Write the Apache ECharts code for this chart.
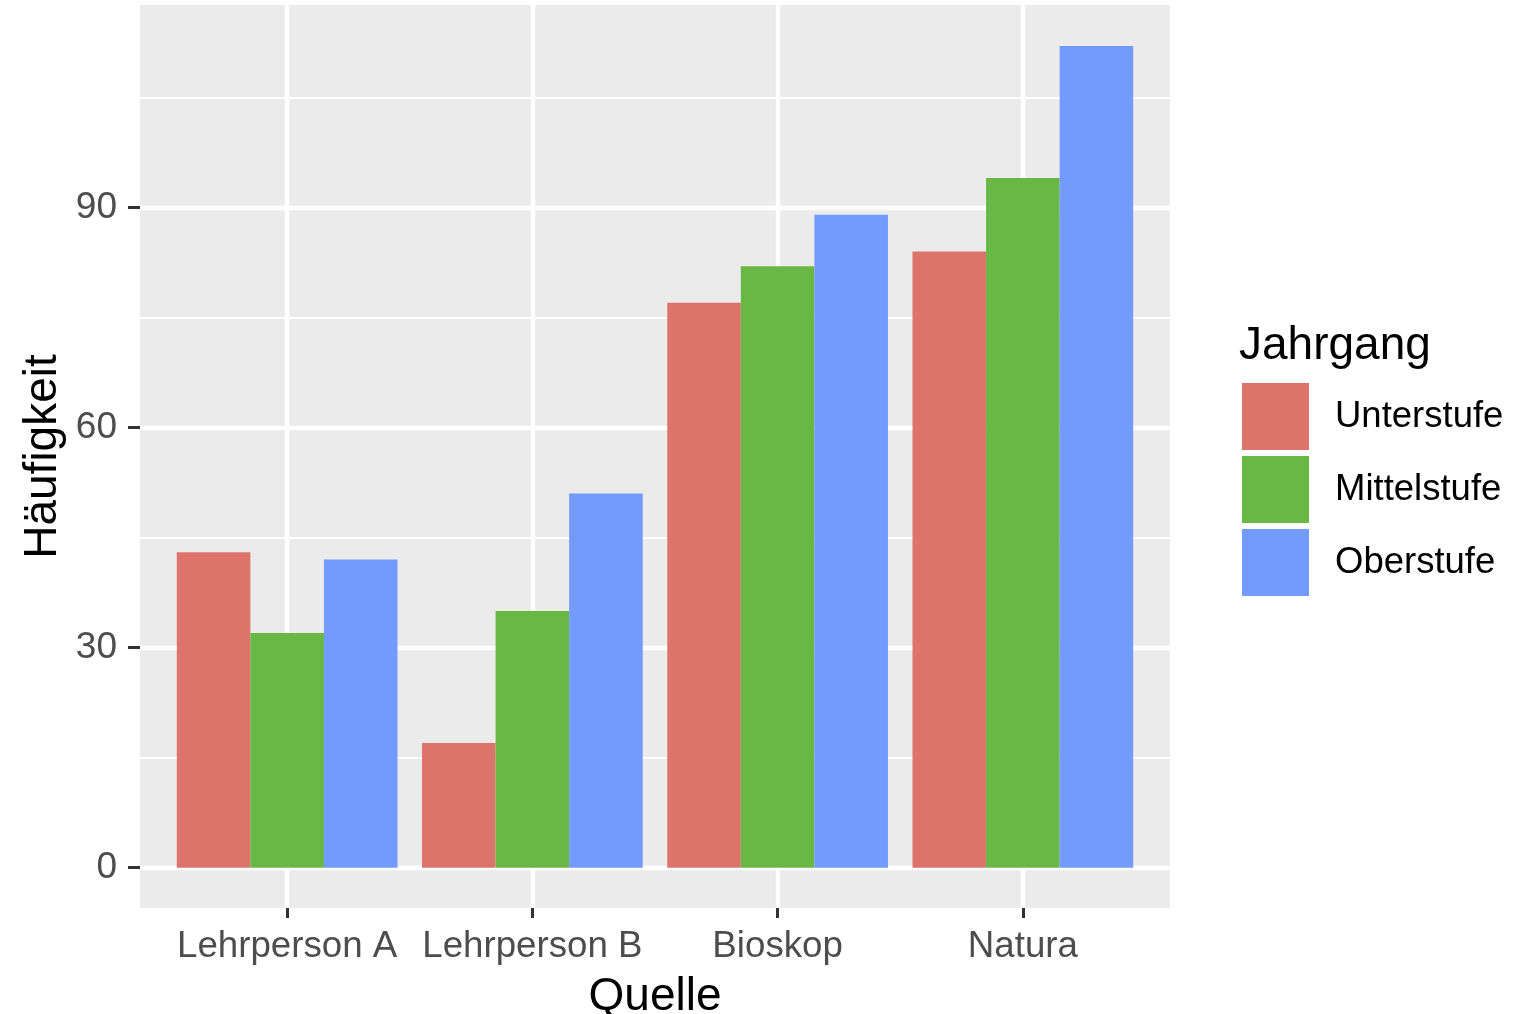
<!DOCTYPE html>
<html><head><meta charset="utf-8">
<script src="https://cdn.jsdelivr.net/npm/echarts@6/dist/echarts.min.js"></script>
<style>html,body{margin:0;padding:0;background:#fff}#c{width:1522px;height:1014px}</style>
</head><body><div id="c"></div>
<script>
// ---- data ----
const categories = ['Lehrperson A', 'Lehrperson B', 'Bioskop', 'Natura'];
const seriesNames = ['Unterstufe', 'Mittelstufe', 'Oberstufe'];
const unterstufe = [43, 17, 77, 84];
const mittelstufe = [32, 35, 82, 94];
const oberstufe = [42, 51, 89, 112];
const yTickLabels = [0, 30, 60, 90];
const colors = ['#DD746B', '#69B745', '#739AFD'];

// ---- layout ----
const FONT = '"Liberation Sans", Arial, Helvetica, sans-serif';
const panelLeft = 140, panelRight = 1170, panelTop = 5, panelBottom = 908;
const yLo = -5.5, yHi = 117.6;
const k = (panelBottom - panelTop) / (yHi - yLo);
const zeroY = panelBottom + yLo * k;
const gridMax = 120;
const panelW = panelRight - panelLeft;
const band = panelW / (categories.length + 0.2);

const chart = echarts.init(document.getElementById('c'), null, {renderer: 'canvas'});
const hidden = {show: false};
const option = {
  animation: false,
  backgroundColor: '#FFFFFF',
  textStyle: {fontFamily: FONT},
  title: {
    text: 'Jahrgang', left: 1239, top: 323, padding: 0,
    textStyle: {fontFamily: FONT, fontSize: 46, fontWeight: 'normal', color: '#000'}
  },
  legend: {
    data: seriesNames, orient: 'vertical', left: 1242, top: 383, padding: 0,
    itemWidth: 67, itemHeight: 67, itemGap: 6, icon: 'rect',
    textStyle: {fontFamily: FONT, fontSize: 36.5, color: '#000', padding: [12, 0, 0, 21]}
  },
  grid: [
    {left: panelLeft, top: panelTop, width: panelW, height: panelBottom - panelTop,
     show: true, backgroundColor: '#EBEBEB', borderWidth: 0, outerBoundsMode: 'none'},
    {left: panelLeft, top: zeroY - gridMax * k, width: panelW, height: gridMax * k,
     show: false, outerBoundsMode: 'none'},
    {left: panelLeft + 0.1 * band, top: panelTop, width: band * categories.length,
     height: panelBottom - panelTop, show: false, outerBoundsMode: 'none'}
  ],
  xAxis: [
    {gridIndex: 0, type: 'value', min: 0, max: 1, show: true,
     axisLine: hidden, axisTick: hidden, axisLabel: hidden, splitLine: hidden,
     name: 'Quelle', nameLocation: 'middle', nameGap: 66,
     nameTextStyle: {fontFamily: FONT, fontSize: 46, color: '#000'}},
    {gridIndex: 1, type: 'value', min: 0, max: 1, show: false},
    {gridIndex: 2, type: 'category', data: categories, boundaryGap: true, position: 'bottom',
     axisLine: {show: false, onZero: false},
     axisTick: {show: true, interval: 0, alignWithLabel: true, length: 10, lineStyle: {color: '#333', width: 3}},
     axisLabel: {show: true, interval: 0, margin: 20, fontFamily: FONT, fontSize: 36.7, color: '#4D4D4D'},
     splitLine: {show: true, interval: 0, alignWithLabel: true, lineStyle: {color: '#FFFFFF', width: 4.4}}}
  ],
  yAxis: [
    {gridIndex: 0, type: 'value', min: 0, max: 1, show: true,
     axisLine: hidden, axisTick: hidden, axisLabel: hidden, splitLine: hidden,
     name: 'Häufigkeit', nameLocation: 'middle', nameGap: 74, nameRotate: 90,
     nameTextStyle: {fontFamily: FONT, fontSize: 46, color: '#000'}},
    {gridIndex: 1, type: 'value', min: 0, max: gridMax, interval: 30,
     axisLine: hidden,
     axisTick: {show: true, length: 12, lineStyle: {color: '#333', width: 3}},
     axisLabel: {show: true, margin: 23, fontFamily: FONT, fontSize: 37, color: '#4D4D4D',
       showMaxLabel: false,
       formatter: v => yTickLabels.indexOf(v) >= 0 ? String(v) : ''},
     splitLine: {show: true, lineStyle: {color: '#FFFFFF', width: 4.4}},
     minorTick: {show: false, splitNumber: 2},
     minorSplitLine: {show: true, lineStyle: {color: '#FFFFFF', width: 2.2}}},
    {gridIndex: 2, type: 'value', min: yLo, max: yHi, show: false}
  ],
  series: [
    {name: seriesNames[0], data: unterstufe},
    {name: seriesNames[1], data: mittelstufe},
    {name: seriesNames[2], data: oberstufe}
  ].map((s, i) => ({
    type: 'bar', name: s.name, data: s.data, xAxisIndex: 2, yAxisIndex: 2,
    barCategoryGap: '10%', barGap: '0%',
    itemStyle: {color: colors[i], borderWidth: 0},
    emphasis: {disabled: true}
  }))
};
chart.setOption(option);
</script>
</body></html>
